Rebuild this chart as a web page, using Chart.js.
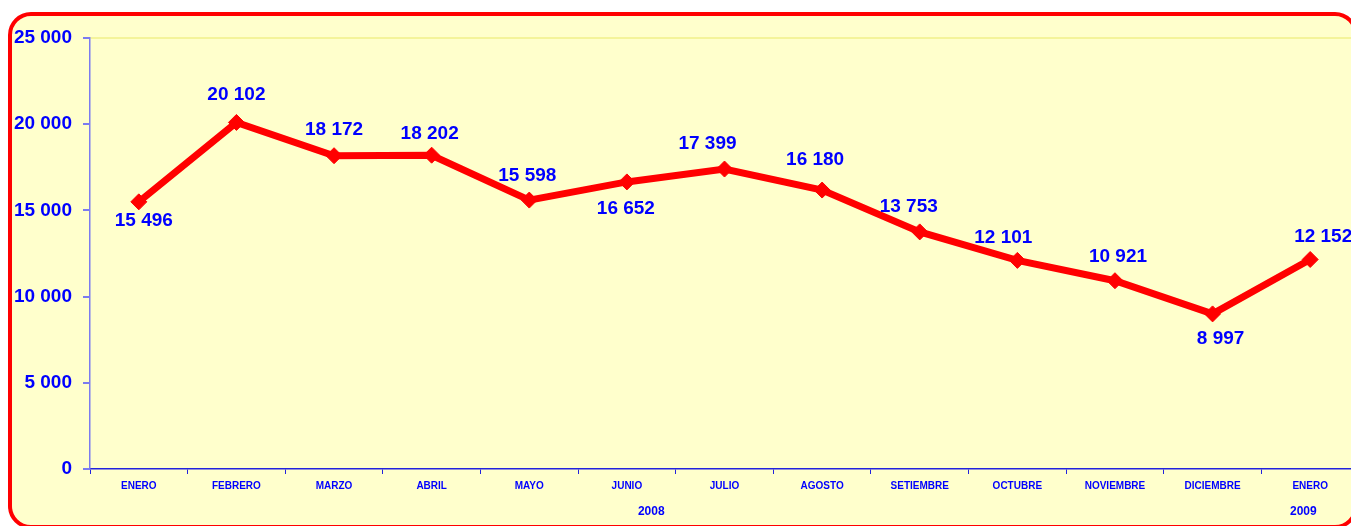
<!DOCTYPE html>
<html>
<head>
<meta charset="utf-8">
<script src="https://cdn.jsdelivr.net/npm/chart.js@4/dist/chart.umd.min.js"></script>
<style>
  html, body { margin: 0; padding: 0; width: 1351px; height: 526px; overflow: hidden; background: #fff; }
  #frame {
    position: absolute; left: 8px; top: 12px; width: 1350px; height: 517px;
    box-sizing: border-box; border: 4px solid #ff0000; border-radius: 23px; background: #ffffcc;
  }
  #wrap { position: absolute; left: 0; top: 0; width: 1380px; height: 526px; }
</style>
</head>
<body>
<div id="frame"></div>
<div id="wrap"><canvas id="chart" width="1380" height="526"></canvas></div>
<script>
// months along the x axis
const months = ['ENERO', 'FEBRERO', 'MARZO', 'ABRIL', 'MAYO', 'JUNIO', 'JULIO',
  'AGOSTO', 'SETIEMBRE', 'OCTUBRE', 'NOVIEMBRE', 'DICIEMBRE', 'ENERO'];

// values for each month
const values = [15496, 20102, 18172, 18202, 15598, 16652, 17399,
  16180, 13753, 12101, 10921, 8997, 12152];

// year captions under the month row, at a category position
const years = ['2008', '2009'];
const yearAt = [5.25, 11.93];

// y axis
const yMax = 25000;
const yStep = 5000;

// label nudges relative to each point [dx, dy]
const labelOffsets = [[5, 19], [0, -28], [0, -26], [-2, -21], [-2, -24], [-1, 27], [-17, -25],
  [-7, -30], [-11, -25], [-14, -23], [3, -24], [8, 25], [13, -23]];

const FONT = 'Liberation Sans, Arial, sans-serif';
const BLUE = '#0000ff';

function fmt(v) {
  return v.toString().replace(/\B(?=(\d{3})+(?!\d))/g, ' ');
}

const valueLabels = {
  id: 'valueLabels',
  afterDatasetsDraw(chart) {
    const ctx = chart.ctx;
    const meta = chart.getDatasetMeta(0);
    ctx.save();
    ctx.font = 'bold 19px ' + FONT;
    ctx.fillStyle = BLUE;
    ctx.textAlign = 'center';
    ctx.textBaseline = 'middle';
    meta.data.forEach((pt, i) => {
      const off = labelOffsets[i];
      ctx.fillText(fmt(values[i]), pt.x + off[0], pt.y + off[1]);
    });
    ctx.restore();
  }
};

const yearLabels = {
  id: 'yearLabels',
  afterDraw(chart) {
    const ctx = chart.ctx;
    const xs = chart.scales.x;
    ctx.save();
    ctx.font = 'bold 12px ' + FONT;
    ctx.fillStyle = BLUE;
    ctx.textAlign = 'center';
    ctx.textBaseline = 'middle';
    years.forEach((y, i) => {
      ctx.fillText(y, xs.getPixelForValue(yearAt[i]), xs.bottom - 14);
    });
    ctx.restore();
  }
};

new Chart(document.getElementById('chart'), {
  type: 'line',
  data: {
    labels: months,
    datasets: [{
      data: values,
      borderColor: '#ff0000',
      backgroundColor: '#ff0000',
      borderWidth: 7,
      pointStyle: 'rectRot',
      pointRadius: 8,
      pointBorderWidth: 1,
      tension: 0
    }]
  },
  options: {
    responsive: false,
    animation: false,
    layout: { padding: { left: 0, right: 21, top: 38, bottom: 0 } },
    plugins: { legend: { display: false }, tooltip: { enabled: false } },
    scales: {
      x: {
        offset: true,
        grid: { display: true, offset: true, drawOnChartArea: false, tickLength: 5, tickColor: '#2222dd' },
        border: { color: '#2222dd', width: 1.5 },
        ticks: { color: BLUE, font: { family: FONT, size: 10, weight: 'bold' }, padding: 6, maxRotation: 0, autoSkip: false },
        afterFit(s) { s.height = 57; }
      },
      y: {
        min: 0,
        max: yMax,
        ticks: {
          stepSize: yStep,
          color: BLUE,
          padding: 11,
          font: { family: FONT, size: 19, weight: 'bold' },
          callback: v => fmt(v)
        },
        grid: {
          tickLength: 7,
          tickColor: '#7b7bf0',
          color: ctx => (ctx.tick && ctx.tick.value === yMax) ? '#f4f49a' : 'rgba(0,0,0,0)',
          lineWidth: 2
        },
        border: { color: '#7b7bf0', width: 1.5 },
        afterFit(s) { s.width = 90; }
      }
    }
  },
  plugins: [valueLabels, yearLabels]
});
</script>
</body>
</html>
